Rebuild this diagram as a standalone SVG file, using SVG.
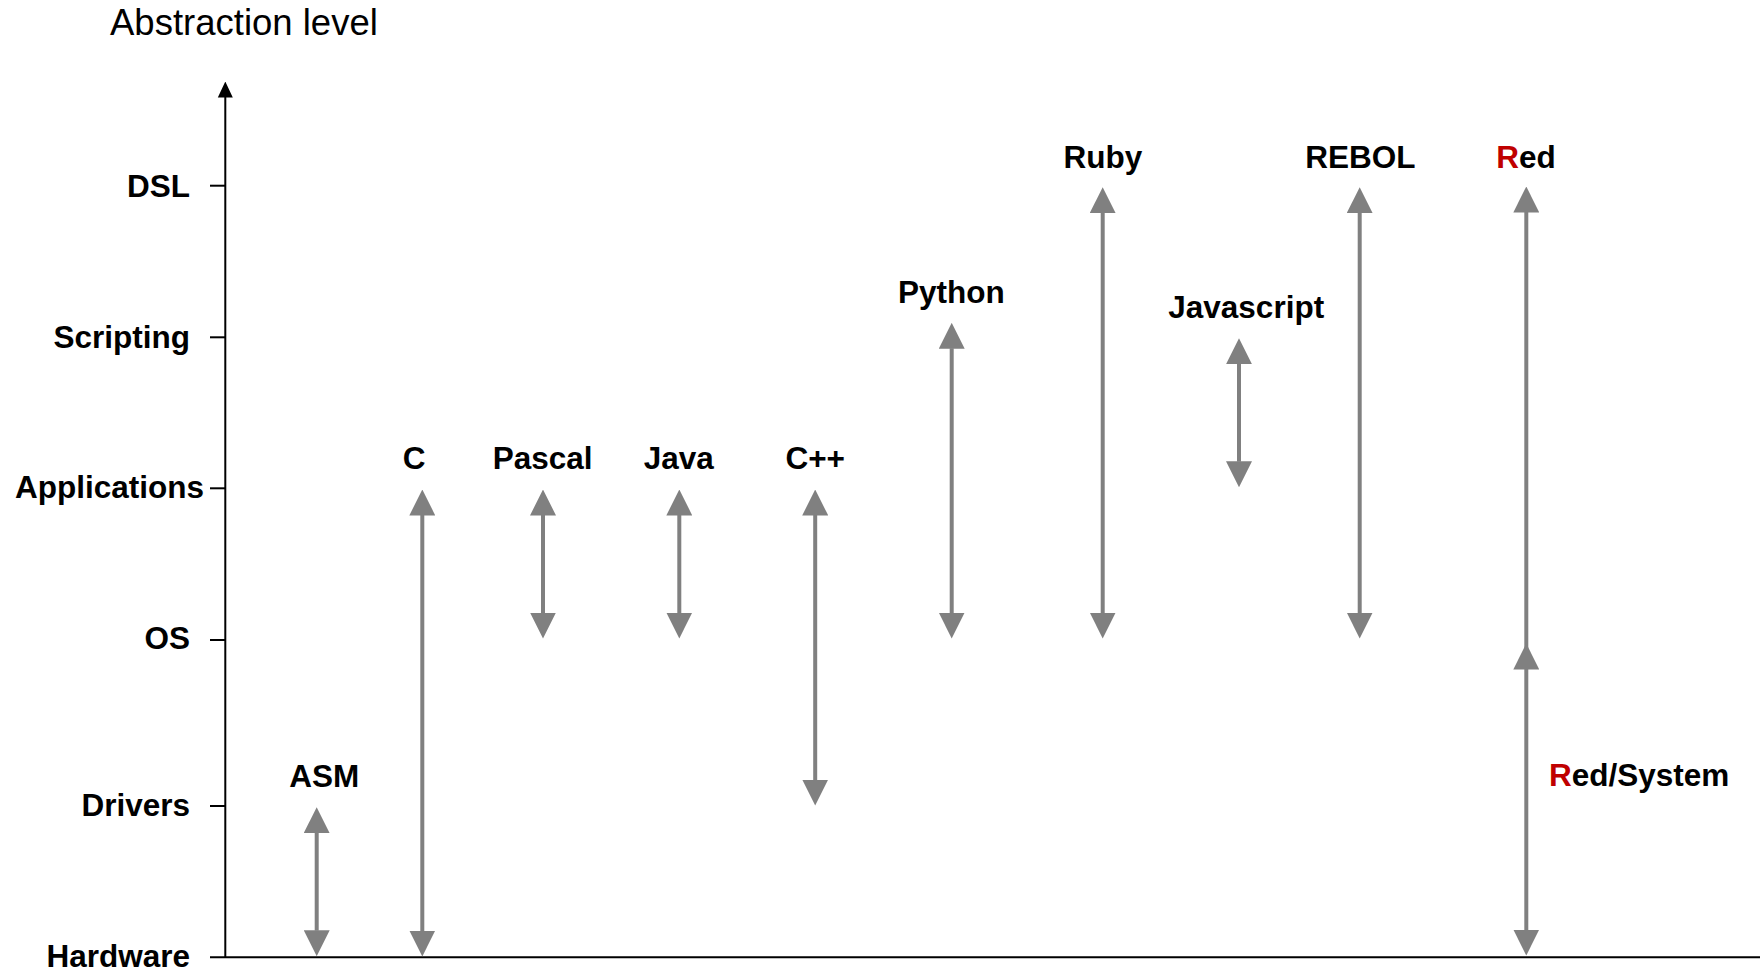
<svg xmlns="http://www.w3.org/2000/svg" width="1760" height="972" viewBox="0 0 1760 972">
  <style>
    .title { font-family: "Liberation Sans", Arial, sans-serif; font-size: 36.5px; fill: #000; }
    .lvl { font-family: "Liberation Sans", Arial, sans-serif; font-size: 31.5px; font-weight: bold; fill: #000; text-anchor: end; }
    .lang { font-family: "Liberation Sans", Arial, sans-serif; font-size: 31.5px; font-weight: bold; fill: #000; text-anchor: middle; }
    .red { fill: #c00000; }
    .axis { stroke: #000; stroke-width: 2; fill: none; }
    .span { stroke: #808080; stroke-width: 4; fill: none; marker-start: url(#head); marker-end: url(#head); }
    .up { stroke: #808080; stroke-width: 4; fill: none; marker-end: url(#head); }
  </style>
  <defs>
    <!-- grey arrowhead: base sits on the line end, tip points outward -->
    <marker id="head" viewBox="0 0 26 26" markerUnits="userSpaceOnUse" markerWidth="26" markerHeight="26" refX="0.5" refY="13" orient="auto-start-reverse">
      <path d="M0,0 L26,13 L0,26 z" fill="#808080"/>
    </marker>
    <marker id="axisHead" viewBox="0 0 16 16" markerUnits="userSpaceOnUse" markerWidth="16" markerHeight="16" refX="0.5" refY="8" orient="auto">
      <path d="M0,0.5 L16,8 L0,15.5 z" fill="#000"/>
    </marker>
  </defs>

  <rect width="1760" height="972" fill="#fff"/>

  <!-- axes and level ticks -->
  <g id="axes">
    <text class="title" x="110" y="35">Abstraction level</text>
    <line class="axis" x1="225.3" y1="958" x2="225.3" y2="97" marker-end="url(#axisHead)"/>
    <line class="axis" x1="210" y1="957.3" x2="1760" y2="957.3"/>
    <line class="axis" x1="210" y1="185.7" x2="225" y2="185.7"/>
    <line class="axis" x1="210" y1="337.3" x2="225" y2="337.3"/>
    <line class="axis" x1="210" y1="488.3" x2="225" y2="488.3"/>
    <line class="axis" x1="210" y1="640" x2="225" y2="640"/>
    <line class="axis" x1="210" y1="806" x2="225" y2="806"/>
  </g>

  <g id="levels">
    <text class="lvl" x="190" y="196.7">DSL</text>
    <text class="lvl" x="190" y="348">Scripting</text>
    <text class="lvl" x="204" y="498.3">Applications</text>
    <text class="lvl" x="190" y="649.3">OS</text>
    <text class="lvl" x="190" y="816">Drivers</text>
    <text class="lvl" x="190" y="967">Hardware</text>
  </g>

  <!-- language ranges -->
  <g id="connectors">
    <line class="span" x1="316.7" y1="832.7" x2="316.7" y2="930.7"/>
    <line class="span" x1="422.3" y1="515" x2="422.3" y2="931"/>
    <line class="span" x1="543" y1="515" x2="543" y2="613"/>
    <line class="span" x1="679.3" y1="515" x2="679.3" y2="613"/>
    <line class="span" x1="815.2" y1="515" x2="815.2" y2="780"/>
    <line class="span" x1="951.7" y1="348.3" x2="951.7" y2="613"/>
    <line class="span" x1="1102.7" y1="212.7" x2="1102.7" y2="613"/>
    <line class="span" x1="1239" y1="363.7" x2="1239" y2="461.7"/>
    <line class="span" x1="1359.7" y1="212.7" x2="1359.7" y2="613"/>
    <line class="up" x1="1526.3" y1="669" x2="1526.3" y2="212"/>
    <line class="span" x1="1526.3" y1="669" x2="1526.3" y2="930"/>
  </g>

  <g id="asm"><text class="lang" x="324.2" y="786.7">ASM</text></g>
  <g id="c"><text class="lang" x="414.2" y="469.3">C</text></g>
  <g id="pascal"><text class="lang" x="542.7" y="469.3">Pascal</text></g>
  <g id="java"><text class="lang" x="678.8" y="469.3">Java</text></g>
  <g id="cpp"><text class="lang" x="815.2" y="469.3">C++</text></g>
  <g id="python"><text class="lang" x="951.3" y="303.3">Python</text></g>
  <g id="ruby"><text class="lang" x="1102.8" y="167.7">Ruby</text></g>
  <g id="javascript"><text class="lang" x="1246.2" y="318.3">Javascript</text></g>
  <g id="rebol"><text class="lang" x="1360.3" y="167.5">REBOL</text></g>
  <g id="red"><text class="lang" x="1526" y="167.7"><tspan class="red">R</tspan>ed</text></g>
  <g id="red-system"><text class="lang" x="1549" y="786" style="text-anchor:start"><tspan class="red">R</tspan>ed/System</text></g>
</svg>
